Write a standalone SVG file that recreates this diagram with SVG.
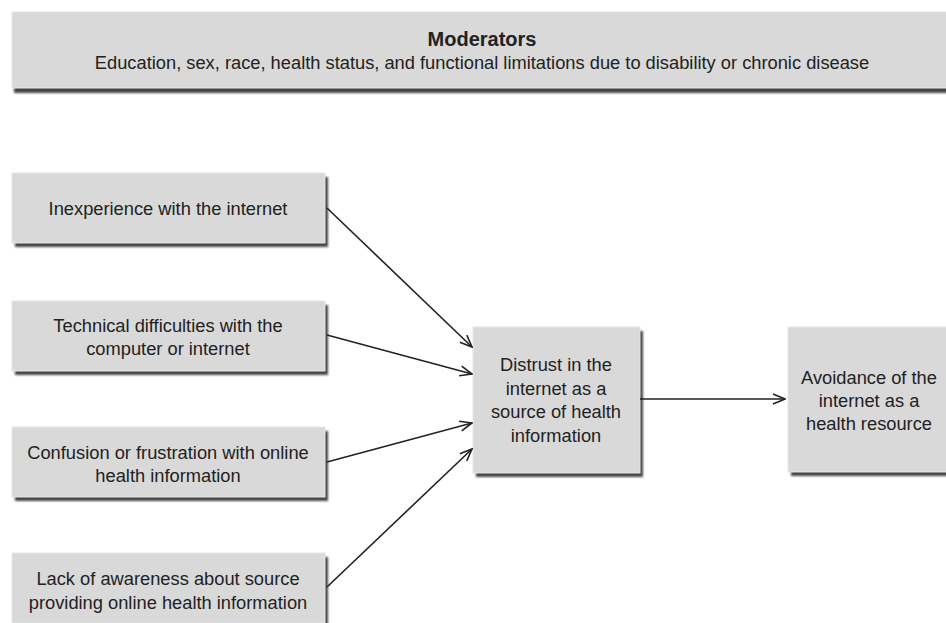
<svg xmlns="http://www.w3.org/2000/svg" width="946" height="623" viewBox="0 0 946 623">
<style>
.box{fill:#d9d9d9;stroke:#e6e6e6;stroke-width:1}
.sh{fill:#444;filter:url(#blur)}
text{font-family:"Liberation Sans",Arial,sans-serif;font-size:18.3px;fill:#222;text-anchor:middle}
.b{font-weight:bold;font-size:20px}
.c{stroke:#222;stroke-width:1.6;fill:none;marker-end:url(#ah)}
</style>
<defs>
<filter id="blur" x="-5%" y="-5%" width="110%" height="120%"><feGaussianBlur stdDeviation="1.3"/></filter>
<marker id="ah" viewBox="0 0 14 12" refX="13" refY="6" markerWidth="14" markerHeight="12" markerUnits="userSpaceOnUse" orient="auto">
<path d="M1,1 L13,6 L1,11" fill="none" stroke="#222" stroke-width="1.6"/>
</marker>
</defs>
<rect width="946" height="623" fill="#fff"/>
<g id="moderators">
<rect class="sh" x="14" y="16" width="950" height="77"/>
<rect class="box" x="12" y="12" width="950" height="76"/>
<text class="b" x="482" y="46">Moderators</text>
<text x="482" y="69">Education, sex, race, health status, and functional limitations due to disability or chronic disease</text>
</g>
<g id="inexperience">
<rect class="sh" x="15" y="177" width="313" height="70"/>
<rect class="box" x="12" y="173" width="313" height="70"/>
<text x="168" y="215">Inexperience with the internet</text>
</g>
<g id="technical">
<rect class="sh" x="15" y="305" width="313" height="70"/>
<rect class="box" x="12" y="301" width="313" height="70"/>
<text x="168" y="332">Technical difficulties with the</text>
<text x="168" y="355">computer or internet</text>
</g>
<g id="confusion">
<rect class="sh" x="15" y="431" width="313" height="70"/>
<rect class="box" x="12" y="427" width="313" height="70"/>
<text x="168" y="459">Confusion or frustration with online</text>
<text x="168" y="482">health information</text>
</g>
<g id="lack">
<rect class="sh" x="15" y="557" width="313" height="70"/>
<rect class="box" x="12" y="553" width="313" height="70"/>
<text x="168" y="585">Lack of awareness about source</text>
<text x="168" y="609">providing online health information</text>
</g>
<g id="distrust">
<rect class="sh" x="476" y="331" width="167" height="146"/>
<rect class="box" x="473" y="327" width="167" height="146"/>
<text x="556" y="371">Distrust in the</text>
<text x="556" y="395">internet as a</text>
<text x="556" y="418">source of health</text>
<text x="556" y="442">information</text>
</g>
<g id="avoidance">
<rect class="sh" x="791" y="331" width="170" height="145"/>
<rect class="box" x="788" y="327" width="170" height="145"/>
<text x="869" y="384">Avoidance of the</text>
<text x="869" y="407">internet as a</text>
<text x="869" y="430">health resource</text>
</g>
<g id="connectors">
<line class="c" x1="327" y1="208" x2="472" y2="347"/>
<line class="c" x1="327" y1="335" x2="472" y2="374"/>
<line class="c" x1="327" y1="462" x2="472" y2="423"/>
<line class="c" x1="327" y1="587" x2="472" y2="449"/>
<line class="c" x1="640" y1="399" x2="785" y2="399"/>
</g>
</svg>
